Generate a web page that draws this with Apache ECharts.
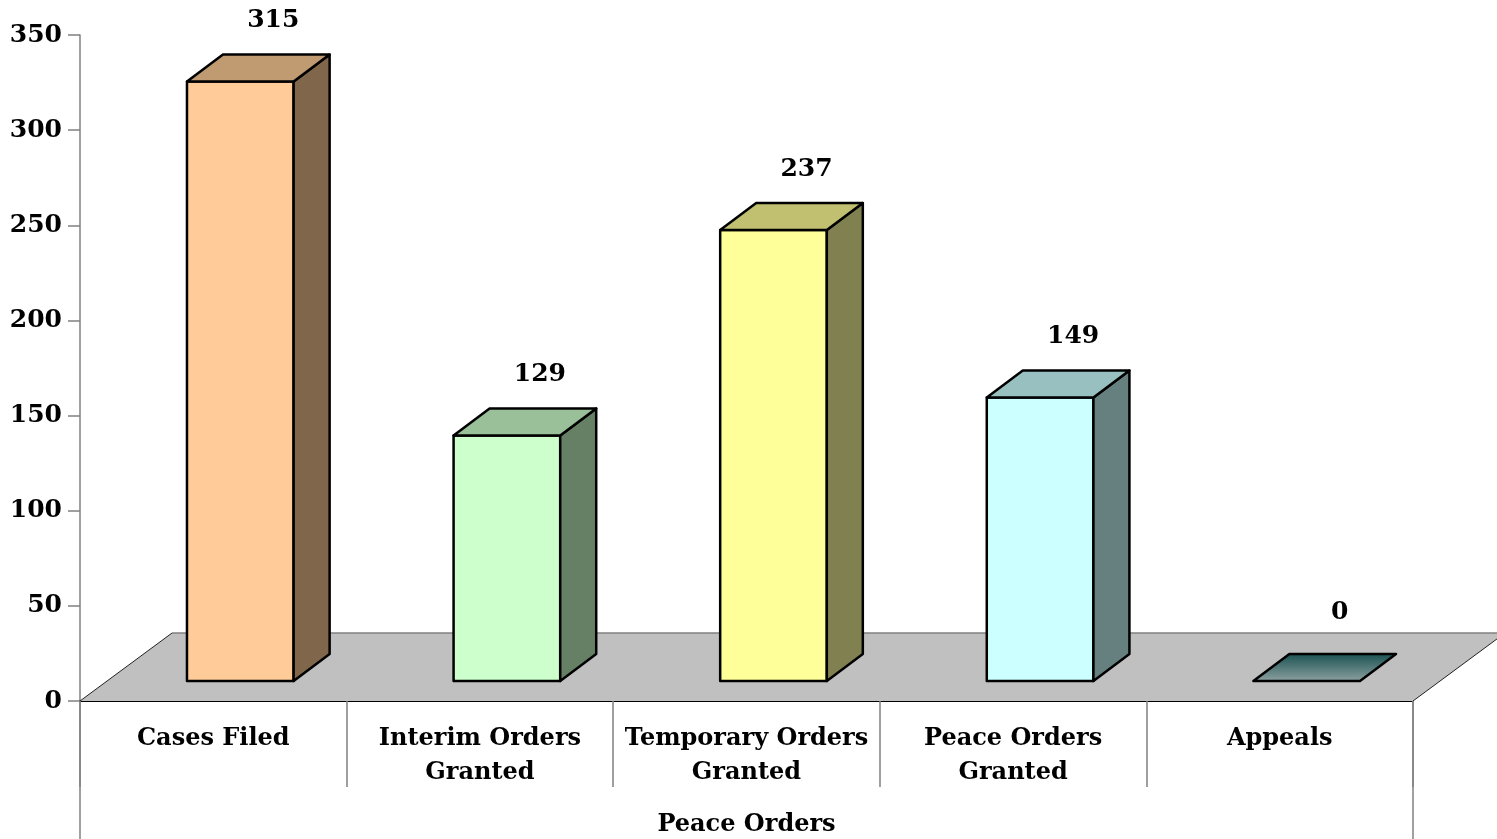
<!DOCTYPE html>
<html>
<head>
<meta charset="utf-8">
<script src="https://cdn.jsdelivr.net/npm/echarts@6/dist/echarts.min.js"></script>
<style>html,body{margin:0;padding:0;background:#fff}#c{width:1497px;height:839px}</style>
</head>
<body>
<div id="c"></div>
<script>
const categories = ['Cases Filed', 'Interim Orders Granted', 'Temporary Orders Granted', 'Peace Orders Granted', 'Appeals'];
const values = [315, 129, 237, 149, 0];
const yTicks = [0, 50, 100, 150, 200, 250, 300, 350];
const axisTitle = 'Peace Orders';

const frontColors = ['#FFCC99', '#CCFFCC', '#FFFF99', '#CCFFFF', '#2E7A7A'];
const topColors = ['#C09A70', '#99C099', '#C0C070', '#99C0C0', null];
const sideColors = ['#80674B', '#668066', '#808050', '#668080', '#1F5C5C'];

const FONT = '"DejaVu Serif", serif';
// 3D projection offsets (pixels)
const FLOOR_DX = 92, FLOOR_DY = -68;
const BAR_OFF_DX = 27, BAR_OFF_DY = -20;
const BAR_DEP_DX = 36, BAR_DEP_DY = -27;

const chart = echarts.init(document.getElementById('c'), null, {renderer: 'canvas'});

function renderFloor(params, api) {
  const band = api.size([1, 0])[0];
  const p = api.coord([0, 0]);
  const x0 = p[0] - band / 2;
  const x1 = x0 + band * categories.length;
  const y0 = p[1];
  const children = [
    {type: 'polygon', shape: {points: [[x0, y0], [x0 + FLOOR_DX, y0 + FLOOR_DY], [x1 + FLOOR_DX, y0 + FLOOR_DY], [x1, y0]]},
     style: {fill: '#C0C0C0', stroke: null}},
    {type: 'line', shape: {x1: x0 + FLOOR_DX, y1: y0 + FLOOR_DY, x2: x1 + FLOOR_DX, y2: y0 + FLOOR_DY}, style: {stroke: '#808080', lineWidth: 1.5}},
    {type: 'line', shape: {x1: x0, y1: y0, x2: x0 + FLOOR_DX, y2: y0 + FLOOR_DY}, style: {stroke: '#222', lineWidth: 1}},
    {type: 'line', shape: {x1: x1, y1: y0, x2: x1 + FLOOR_DX, y2: y0 + FLOOR_DY}, style: {stroke: '#222', lineWidth: 1}},
    {type: 'line', shape: {x1: x0, y1: y0, x2: x0, y2: 839}, style: {stroke: '#808080', lineWidth: 1.5}},
    {type: 'line', shape: {x1: x1, y1: y0, x2: x1, y2: 839}, style: {stroke: '#808080', lineWidth: 1.5}}
  ];
  return {type: 'group', children: children};
}

function renderBar(params, api) {
  const i = api.value(0);
  const v = api.value(1);
  const band = api.size([1, 0])[0];
  const bw = band * 0.4;
  const pb = api.coord([i, 0]);
  const pt = api.coord([i, v]);
  const cx = pb[0] + BAR_OFF_DX;
  const xl = cx - bw / 2, xr = cx + bw / 2;
  const yb = pb[1] + BAR_OFF_DY;
  const yt = pt[1] + BAR_OFF_DY;
  const st = {stroke: '#000', lineWidth: 2.5, lineJoin: 'round'};
  const children = [];
  if (v > 0) {
    children.push({type: 'polygon', shape: {points: [[xl, yb], [xl, yt], [xr, yt], [xr, yb]]}, style: Object.assign({fill: frontColors[i]}, st)});
    children.push({type: 'polygon', shape: {points: [[xr, yb], [xr, yt], [xr + BAR_DEP_DX, yt + BAR_DEP_DY], [xr + BAR_DEP_DX, yb + BAR_DEP_DY]]}, style: Object.assign({fill: sideColors[i]}, st)});
    children.push({type: 'polygon', shape: {points: [[xl, yt], [xl + BAR_DEP_DX, yt + BAR_DEP_DY], [xr + BAR_DEP_DX, yt + BAR_DEP_DY], [xr, yt]]}, style: Object.assign({fill: topColors[i]}, st)});
  } else {
    children.push({type: 'polygon', shape: {points: [[xl, yt], [xl + BAR_DEP_DX, yt + BAR_DEP_DY], [xr + BAR_DEP_DX, yt + BAR_DEP_DY], [xr, yt]]},
      style: Object.assign({fill: new echarts.graphic.LinearGradient(0, 0, 0, 1, [{offset: 0, color: '#174F4F'}, {offset: 1, color: '#90A3A3'}])}, st)});
  }
  children.push({type: 'text', x: cx + 33, y: yt + BAR_DEP_DY - (v > 0 ? 34 : 42),
    style: {text: String(v), font: 'bold 25px ' + FONT, fill: '#000', align: 'center', verticalAlign: 'middle'}});
  return {type: 'group', children: children};
}

chart.setOption({
  animation: false,
  backgroundColor: '#fff',
  grid: {left: 80, right: 84, top: 35, bottom: 138, containLabel: false, outerBoundsMode: 'none'},
  xAxis: {
    type: 'category',
    data: categories,
    boundaryGap: true,
    name: axisTitle,
    nameLocation: 'middle',
    nameGap: 112,
    nameTextStyle: {fontFamily: FONT, fontWeight: 'bold', fontSize: 24, color: '#000'},
    axisLine: {show: true, lineStyle: {color: '#000', width: 2}},
    axisTick: {show: true, length: 86, interval: 0, lineStyle: {color: '#808080', width: 1.5}},
    axisLabel: {interval: 0, margin: 21, fontFamily: FONT, fontWeight: 'bold', fontSize: 24, lineHeight: 34, color: '#000',
      formatter: v => v.replace(' Granted', '\nGranted')},
    splitLine: {show: false}
  },
  yAxis: {
    type: 'value',
    min: yTicks[0],
    max: yTicks[yTicks.length - 1],
    interval: yTicks[1] - yTicks[0],
    axisLine: {show: true, lineStyle: {color: '#808080', width: 1.5}},
    axisTick: {show: true, length: 12, lineStyle: {color: '#808080', width: 1.5}},
    axisLabel: {margin: 18, fontFamily: FONT, fontWeight: 'bold', fontSize: 25, color: '#000'},
    splitLine: {show: false}
  },
  series: [
    {type: 'custom', z: 1, renderItem: renderFloor, data: [[0, 0]], silent: true},
    {type: 'custom', z: 2, renderItem: renderBar, data: values.map((v, i) => [i, v]), silent: true}
  ]
});
</script>
</body>
</html>
